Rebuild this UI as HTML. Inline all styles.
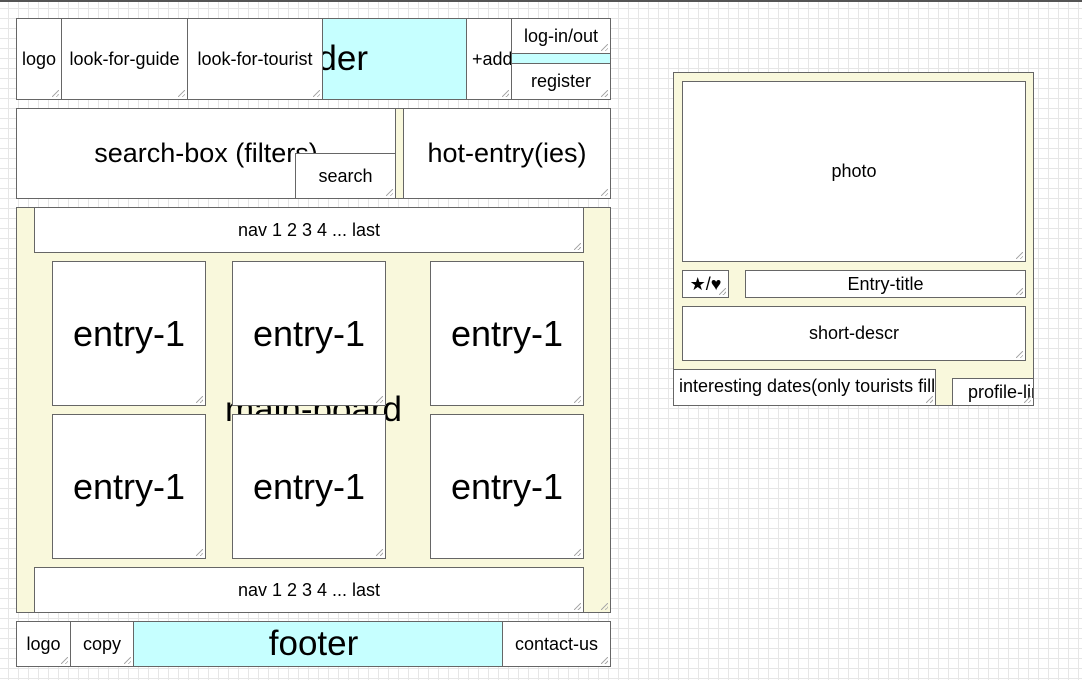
<!DOCTYPE html>
<html><head><meta charset="utf-8"><style>
html,body{margin:0;padding:0}
body{width:1082px;height:680px;position:relative;overflow:hidden;font-family:"Liberation Sans",sans-serif;color:#000;
background-color:#fff;
background-image:linear-gradient(#e6e6e6 1px,transparent 1px),linear-gradient(90deg,#e6e6e6 1px,transparent 1px);
background-size:10px 10px;background-position:-2px -2px;}
.topline{position:absolute;left:0;top:0;width:1082px;height:2px;background:#555}
.b{position:absolute;box-sizing:border-box;border:1px solid #666;background:#fff;display:flex;align-items:center;justify-content:center;white-space:nowrap;overflow:hidden;font-size:18px}
.b::after{content:"";position:absolute;right:2px;bottom:2px;width:7px;height:7px;background:linear-gradient(135deg,transparent 45%,#aaa 45%,#aaa 55%,transparent 55%,transparent 75%,#aaa 75%,#aaa 85%,transparent 85%)}
.c{background:#c6ffff}
.y{background:#f9f8dc}
.big{font-size:35px}
.ent{font-size:36px}
.mid{font-size:27px}
</style></head><body>
<div class="topline"></div>
<div class="b c big" style="left:16px;top:18px;width:595px;height:82px">header</div>
<div class="b" style="left:16px;top:18px;width:46px;height:82px">logo</div>
<div class="b" style="left:61px;top:18px;width:127px;height:82px">look-for-guide</div>
<div class="b" style="left:187px;top:18px;width:136px;height:82px">look-for-tourist</div>
<div class="b" style="left:466px;top:18px;width:46px;height:82px;justify-content:flex-start;padding-left:5px">+add</div>
<div class="b" style="left:511px;top:18px;width:100px;height:36px">log-in/out</div>
<div class="b" style="left:511px;top:63px;width:100px;height:37px">register</div>
<div class="b y" style="left:16px;top:108px;width:595px;height:91px"></div>
<div class="b mid" style="left:16px;top:108px;width:380px;height:91px">search-box (filters)</div>
<div class="b" style="left:295px;top:153px;width:101px;height:46px">search</div>
<div class="b mid" style="left:403px;top:108px;width:208px;height:91px">hot-entry(ies)</div>
<div class="b y big" style="left:16px;top:207px;width:595px;height:406px;padding-top:0">main-board</div>
<div class="b" style="left:34px;top:207px;width:550px;height:46px">nav 1 2 3 4 ... last</div>
<div class="b ent" style="left:52px;top:261px;width:154px;height:145px">entry-1</div>
<div class="b ent" style="left:232px;top:261px;width:154px;height:145px">entry-1</div>
<div class="b ent" style="left:430px;top:261px;width:154px;height:145px">entry-1</div>
<div class="b ent" style="left:52px;top:414px;width:154px;height:145px">entry-1</div>
<div class="b ent" style="left:232px;top:414px;width:154px;height:145px">entry-1</div>
<div class="b ent" style="left:430px;top:414px;width:154px;height:145px">entry-1</div>
<div class="b" style="left:34px;top:567px;width:550px;height:46px">nav 1 2 3 4 ... last</div>
<div class="b c big" style="left:16px;top:621px;width:595px;height:46px">footer</div>
<div class="b" style="left:16px;top:621px;width:55px;height:46px">logo</div>
<div class="b" style="left:70px;top:621px;width:64px;height:46px">copy</div>
<div class="b" style="left:502px;top:621px;width:109px;height:46px">contact-us</div>
<div class="b y" style="left:673px;top:72px;width:361px;height:334px"></div>
<div class="b" style="left:682px;top:81px;width:344px;height:181px">photo</div>
<div class="b" style="left:682px;top:270px;width:47px;height:28px">★/♥</div>
<div class="b" style="left:745px;top:270px;width:281px;height:28px">Entry-title</div>
<div class="b" style="left:682px;top:306px;width:344px;height:55px">short-descr</div>
<div class="b" style="left:673px;top:369px;width:263px;height:37px;justify-content:flex-start;padding-left:5px;padding-bottom:2px">interesting dates(only tourists fill)</div>
<div class="b" style="left:952px;top:378px;width:82px;height:28px;justify-content:flex-start;padding-left:15px">profile-link</div>
</body></html>
